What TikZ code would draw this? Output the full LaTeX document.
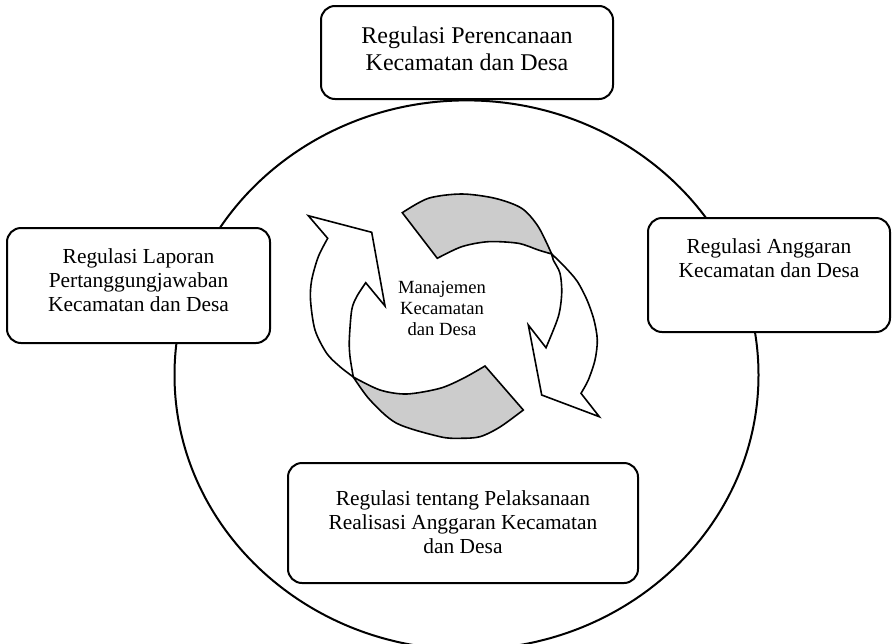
\documentclass[tikz,border=0pt]{standalone}
\usepackage{fontspec}
\setmainfont{Liberation Serif}
\usetikzlibrary{positioning}
\definecolor{abu}{gray}{0.8}

\begin{document}
\begin{tikzpicture}[
    x=0.5pt, y=-0.5pt,
    regbox/.style={
        rectangle,
        draw,
        line width=1pt,
        rounded corners=7pt,
        fill=white,
        inner sep=0pt
    },
    regtext/.style={
        align=center,
        inner sep=0pt,
        font=\fontsize{10.7}{11.8}\selectfont
    },
    toptext/.style={
        align=center,
        inner sep=0pt,
        font=\fontsize{12}{13.5}\selectfont
    },
    muka/.style={
        draw,
        fill=white,
        line width=0.8pt
    },
    punggung/.style={
        draw,
        fill=abu,
        line width=0.8pt
    }
]
\useasboundingbox (0,0) rectangle (894,643);

% Lingkaran besar
\draw[line width=1pt] (466.5,375) ellipse [x radius=146pt, y radius=137.3pt];

% Kotak regulasi
\node[regbox, minimum width=146pt, minimum height=46.5pt] (rencana) at (467,52.5) {};
\node[regbox, minimum width=131.5pt, minimum height=57.5pt] (lapor) at (138.5,285.5) {};
\node[regbox, minimum width=121pt, minimum height=57pt] (anggaran) at (769,275) {};
\node[regbox, minimum width=175pt, minimum height=60pt] (laksana) at (463,523) {};

\node[toptext, below=10.7pt of rencana.north] (trencana) {Regulasi Perencanaan\\Kecamatan dan Desa};
\node[regtext, below=10.8pt of lapor.north] (tlapor) {Regulasi Laporan\\Pertanggungjawaban\\Kecamatan dan Desa};
\node[regtext, below=10.8pt of anggaran.north] (tanggaran) {Regulasi Anggaran\\Kecamatan dan Desa};
\node[regtext, below=14.3pt of laksana.north] (tlaksana) {Regulasi tentang Pelaksanaan\\Realisasi Anggaran Kecamatan\\dan Desa};

% Panah melingkar: bagian belakang (abu-abu)
\draw[punggung] plot[smooth] coordinates {(353.3,377) (380,390) (406.7,394) (440,388.3) (463.3,378.3) (485,366)}
    -- plot[smooth] coordinates {(523.3,410) (500,427) (480,436.7) (460,438.3) (440,436.7) (396.7,423.3) (370,400) (353.3,377)} -- cycle;
\draw[punggung] plot[smooth] coordinates {(551.7,254) (538.3,226.7) (521.7,208.3) (495,198.3) (461.7,194) (428.3,198.3) (402.3,212.7)}
    -- plot[smooth] coordinates {(437.3,258.3) (461.7,246.7) (488.3,241.7) (518.3,243.3) (538.3,250) (551.7,254)} -- cycle;

% Panah melingkar: bagian depan (putih)
\draw[muka] plot[smooth] coordinates {(353.3,377) (340,366.7) (326.7,353.3) (315,330) (310.5,300) (311.7,280) (318.3,256.7) (327.7,238.3)}
    -- (308.3,215.7) -- (371.7,232.3) -- (385,306)
    -- plot[smooth] coordinates {(365.7,282.7) (356.7,296.7) (351.7,310) (349.3,340) (350,356.7) (353.3,377)} -- cycle;
\draw[muka] plot[smooth] coordinates {(551.7,254) (564,266) (577,281) (587,300) (594,320) (597.3,340) (595,360) (588.3,380) (581,393.3)}
    -- (599.3,416.7) -- (541.7,395) -- (528.3,325)
    -- plot[smooth] coordinates {(546,347.7) (558.3,316.7) (561.7,293.3) (560,273.3) (553.3,260) (551.7,254)} -- cycle;

\node[align=center, inner sep=0pt, font=\fontsize{9.3}{10.5}\selectfont, anchor=north] (manajemen) at (442,281) {Manajemen\\Kecamatan\\dan Desa};

\end{tikzpicture}
\end{document}
